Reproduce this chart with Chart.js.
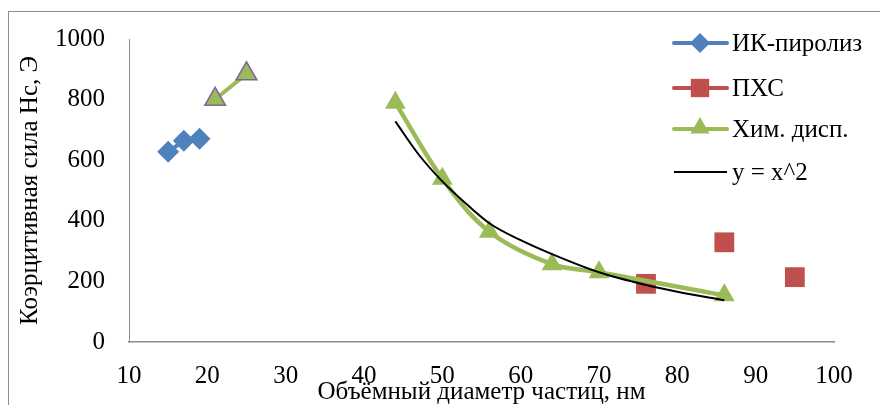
<!DOCTYPE html>
<html>
<head>
<meta charset="utf-8">
<script src="https://cdn.jsdelivr.net/npm/chart.js@4"></script>
<style>
  html, body { margin: 0; padding: 0; background: #fff; overflow: hidden; }
</style>
</head>
<body>
<canvas id="chartHc" width="880" height="405"></canvas>
<script>
// data
const irX = [15, 17, 19];
const irY = [628, 664, 671];
const pxsX = [76, 86, 95];
const pxsY = [192, 329, 214];
const chemX = [44, 50, 56, 64, 70, 86];
const chemY = [790, 539, 364, 257, 230, 154];
const chemX2 = [21, 25];
const chemY2 = [801, 885];
const trendX = [44, 47, 50, 53, 56, 60, 64, 70, 76, 80, 86];
const trendY = [728, 618, 530, 457, 392, 336, 290, 230, 188, 166, 138];
const xTicks = [10, 20, 30, 40, 50, 60, 70, 80, 90, 100];
const yTicks = [0, 200, 400, 600, 800, 1000];
const legendNames = ['ИК-пиролиз', 'ПХС', 'Хим. дисп.', 'y = x^2'];

const BLUE = '#4F81BD';
const RED = '#C0504D';
const GREEN = '#9BBB59';
const PURPLE = '#8064A2';
const FONT = '"Liberation Serif", "DejaVu Serif", "Noto Serif", serif';

const pts = (xs, ys) => xs.map((x, i) => ({x: x, y: ys[i]}));

const dataHc = {
  datasets: [{
    label: legendNames[3],
    data: pts(trendX, trendY),
    borderColor: '#000',
    borderWidth: 2,
    showLine: true,
    cubicInterpolationMode: 'monotone',
    pointRadius: 0,
    order: 0
  },
  {
    label: legendNames[2],
    data: pts(chemX, chemY),
    borderColor: GREEN,
    backgroundColor: GREEN,
    borderWidth: 4.5,
    showLine: true,
    tension: .35,
    pointStyle: 'triangle',
    pointRadius: 12,
    pointBorderWidth: 0,
    order: 1
  },
  {
    label: '',
    data: pts(chemX2, chemY2),
    borderColor: GREEN,
    backgroundColor: GREEN,
    borderWidth: 4,
    showLine: true,
    pointStyle: 'triangle',
    pointRadius: 12,
    pointBorderColor: PURPLE,
    pointBorderWidth: 1.5,
    order: 1
  },
  {
    label: legendNames[1],
    data: pts(pxsX, pxsY),
    backgroundColor: RED,
    borderColor: RED,
    showLine: false,
    pointStyle: 'rect',
    pointRadius: 14,
    pointBorderWidth: 0,
    order: 2
  },
  {
    label: legendNames[0],
    data: pts(irX, irY),
    borderColor: BLUE,
    backgroundColor: BLUE,
    borderWidth: 4,
    showLine: true,
    pointStyle: 'rectRot',
    pointRadius: 11,
    pointBorderWidth: 0,
    order: 3
  }]
}

// outer frame of the picture
const framePlugin = {
  id: 'frame',
  beforeDraw(chart) {
    const c = chart.ctx;
    c.save();
    c.strokeStyle = '#8c8c8c';
    c.lineWidth = 1;
    c.strokeRect(8.5, 11.5, 1000, 1000);
    c.restore();
  }
}

// legend drawn over the plot, line + marker like Excel
const legendPlugin = {
  id: 'sideLegend',
  afterDraw(chart) {
    const c = chart.ctx;
    const items = [
      {color: BLUE, style: 'rectRot', r: 10, w: 4},
      {color: RED, style: 'rect', r: 13, w: 4},
      {color: GREEN, style: 'triangle', r: 11, w: 4},
      {color: '#000', style: false, r: 0, w: 2}
    ];
    const rows = [43, 88, 129, 172];
    c.save();
    items.forEach((it, i) => {
      const y = rows[i];
      c.strokeStyle = it.color;
      c.lineWidth = it.w;
      c.lineCap = it.style ? 'round' : 'butt';
      c.beginPath();
      c.moveTo(674, y);
      c.lineTo(727, y);
      c.stroke();
      if (it.style) {
        c.fillStyle = it.color;
        Chart.helpers.drawPoint(c, {pointStyle: it.style, radius: it.r, borderWidth: 0}, 700, it.style === 'triangle' ? y - 1 : y);
      }
      c.fillStyle = '#000';
      c.font = '25px ' + FONT;
      c.textBaseline = 'middle';
      c.textAlign = 'left';
      c.fillText(legendNames[i], 732, y + 1);
    });
    c.restore();
  }
}

const optionsHc = {
  responsive: false,
  animation: false,
  layout: {
    padding: {left: 0, top: 37, right: 46, bottom: 0}
  },
  scales: {
    x: {
      type: 'linear',
      min: 10,
      max: 100,
      afterBuildTicks: (s) => { s.ticks = xTicks.map(v => ({value: v})); },
      afterFit: (s) => { s.height = 63; },
      grid: {display: false, drawTicks: false},
      border: {display: true, color: '#8c8c8c', width: 1.5},
      ticks: {color: '#000', padding: 19, font: {family: FONT, size: 25}, callback: (v) => String(v)},
      title: {
        display: true,
        text: 'Объёмный диаметр частиц, нм',
        color: '#000',
        font: {family: FONT, size: 25, lineHeight: 1},
        padding: {top: 0, bottom: 0}
      }
    },
    y: {
      min: 0,
      max: 1000,
      afterBuildTicks: (s) => { s.ticks = yTicks.map(v => ({value: v})); },
      afterFit: (s) => { s.width = 129; },
      grid: {display: false, drawTicks: false},
      border: {display: true, color: '#8c8c8c', width: 1},
      ticks: {color: '#000', padding: 24, font: {family: FONT, size: 25}, callback: (v) => String(v)},
      title: {
        display: true,
        text: 'Коэрцитивная сила Hc, Э',
        color: '#000',
        font: {family: FONT, size: 25, lineHeight: 1.2},
        padding: {top: 15, bottom: 0}
      }
    }
  },
  plugins: {
    legend: {display: false},
    tooltip: {enabled: false}
  }
}

const ctxHc = document.getElementById('chartHc');

const draw = () => new Chart(ctxHc, {
  type: 'scatter',
  data: dataHc,
  options: optionsHc,
  plugins: [framePlugin, legendPlugin]
});

if (document.fonts && document.fonts.load) {
  document.fonts.load('25px "Liberation Serif"').then(draw, draw);
} else {
  draw();
}
</script>
</body>
</html>
